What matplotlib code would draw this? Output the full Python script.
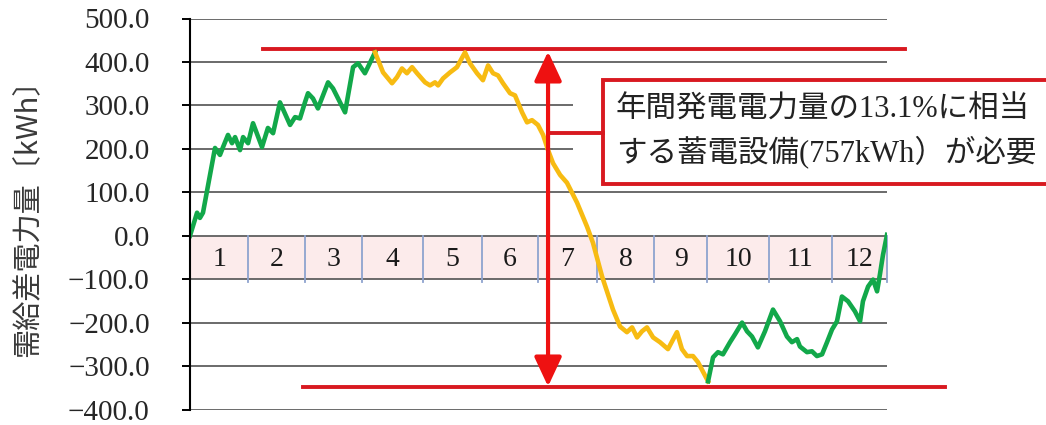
import matplotlib
matplotlib.use("Agg")
import matplotlib.pyplot as plt
from matplotlib.patches import Rectangle, FancyArrowPatch

# ---------------- data ----------------
# Day of year and cumulative supply-demand difference [kWh]
green1_day = [0, 3.7, 5.2, 6.8, 13.1, 15.7, 17.3, 19.9, 22.0, 23.6, 26.2, 27.8, 30.4,
              33.0, 37.7, 40.8, 43.5, 47.1, 52.4, 55.0, 57.6, 60.2, 61.8, 64.4, 67.0,
              72.3, 74.9, 81.2, 85.4, 88.0, 91.6, 96.9]
green1_val = [0, 53, 41, 53, 202, 186, 204, 232, 213, 227, 197, 227, 213,
              259, 204, 248, 236, 307, 255, 273, 270, 307, 328, 316, 293,
              353, 339, 284, 388, 397, 374, 422]

yellow_day = [96.9, 101.1, 105.8, 108.4, 111.0, 113.6, 116.3, 118.9, 123.1, 125.7, 128.3,
              129.9, 132.5, 136.2, 139.8, 144.0, 146.6, 150.3, 153.4, 156.1, 158.7, 161.3,
              163.9, 167.6, 170.2, 173.9, 176.5, 179.1, 182.2, 184.9, 187.5, 190.1, 193.8,
              197.4, 202.7, 207.9, 211.0, 215.8, 221.5, 225.2, 228.8, 231.5, 234.1, 236.7,
              239.3, 242.5, 246.1, 250.3, 255.0, 257.6, 260.3, 263.4, 266.0, 271.3]
yellow_val = [422, 376, 351, 365, 385, 374, 388, 374, 353, 346, 353,
              346, 362, 376, 388, 422, 397, 374, 358, 392, 374, 369,
              351, 328, 323, 284, 261, 266, 255, 232, 197, 167, 140,
              122, 76, 21, -16, -94, -170, -209, -222, -211, -234, -220,
              -211, -234, -245, -261, -222, -261, -277, -277, -291, -335]

green2_day = [271.3, 273.9, 276.5, 279.1, 282.8, 285.4, 289.1, 291.7, 294.3, 297.4, 301.1,
              305.3, 309.0, 312.6, 315.2, 317.9, 319.4, 323.1, 325.7, 328.3, 331.0, 333.6,
              336.2, 338.8, 341.4, 344.6, 348.2, 350.9, 352.4, 355.1, 357.7, 359.8, 361.3,
              362.9, 365.0]
green2_val = [-335, -280, -268, -273, -245, -227, -200, -220, -232, -257, -220,
              -170, -197, -232, -245, -238, -255, -268, -266, -277, -273, -245,
              -216, -197, -140, -151, -174, -197, -151, -117, -101, -128, -89,
              -44, 2]

month_edges = [0, 30.5, 60, 90, 122, 153, 182, 213, 243, 271, 303, 336, 365]
month_labels = ["1", "2", "3", "4", "5", "6", "7", "8", "9", "10", "11", "12"]

y_ticks = [-400, -300, -200, -100, 0, 100, 200, 300, 400, 500]

max_level = 429      # upper red line
min_level = -349     # lower red line

note_line1 = "年間発電電力量の13.1%に相当"
note_line2 = "する蓄電設備(757kWh）が必要"
y_label = "需給差電力量〔kWh〕"

# ---------------- figure ----------------
W, H = 1046, 425
fig = plt.figure(figsize=(W / 100, H / 100), dpi=100)
ax = fig.add_axes([190 / W, (H - 409.5) / H, 697 / W, 391 / H])
ax.set_xlim(0, 365)
ax.set_ylim(-400, 500)

for s in ["top", "right", "bottom"]:
    ax.spines[s].set_visible(False)
ax.spines["left"].set_linewidth(1.5)
ax.spines["left"].set_color("black")
ax.spines["left"].set_zorder(6)

ax.set_xticks([])
ax.set_yticks(y_ticks)
ax.set_yticklabels([f"{v:.1f}".replace("-", "\u2212") for v in y_ticks],
                   family="Liberation Serif", fontsize=21, color="#262626")
ax.tick_params(axis="y", direction="out", length=6, width=1.4, pad=23, color="black")

grid_color = "#5f5f5f"
for v in y_ticks:
    ax.axhline(v, color=grid_color, lw=1.3, zorder=2)

# month boxes
box_fill = "#fcebeb"
box_edge = "#8ea3cf"
for i, lab in enumerate(month_labels):
    a, b = month_edges[i], month_edges[i + 1]
    ax.add_patch(Rectangle((a, -100), b - a, 100, facecolor=box_fill,
                           edgecolor="none", zorder=1))
    ax.text((a + b) / 2, -55, lab, ha="center", va="center",
            family="Liberation Serif", fontsize=20, color="#1a1a1a", zorder=4)
for e in month_edges[1:]:
    ax.plot([e, e], [0, -106], color=box_edge, lw=1.3, zorder=3, clip_on=False)

# curve
green = "#12a84a"
yellow = "#f7bb12"
ax.plot(green1_day, green1_val, color=green, lw=3.3, zorder=5, solid_joinstyle="round")
ax.plot(yellow_day, yellow_val, color=yellow, lw=3.3, zorder=5, solid_joinstyle="round")
ax.plot(green2_day, green2_val, color=green, lw=3.3, zorder=5, solid_joinstyle="round")

# red level lines
red = "#d81920"
ax.plot([38.2, 374.4], [max_level, max_level], color=red, lw=2.8, zorder=4, clip_on=False)
ax.plot([59.2, 395.4], [min_level, min_level], color=red, lw=2.8, zorder=4, clip_on=False)

# double arrow
arr_x = 187.5
arrow = FancyArrowPatch((arr_x, max_level - 5), (arr_x, min_level + 2),
                        arrowstyle="<|-|>,head_length=0.9,head_width=0.42",
                        mutation_scale=20, color="#ee1111", lw=3.0,
                        shrinkA=0, shrinkB=0, zorder=7, clip_on=False)
ax.add_patch(arrow)

# annotation box
ax.add_patch(Rectangle((200.6, 117), 300, 244, facecolor="white", edgecolor="none",
                       zorder=3, clip_on=False))
ax.add_patch(Rectangle((216.3, 119), 300, 240, facecolor="white", edgecolor=red,
                       lw=2.8, zorder=6, clip_on=False))
ax.plot([arr_x, 216.3], [236.4, 236.4], color=red, lw=2.8, zorder=6, clip_on=False)
ax.text(223.1, 289, note_line1, ha="left", va="center", fontsize=22,
        family=["Liberation Serif", "Noto Sans CJK JP"], color="#222222", zorder=8,
        clip_on=False)
ax.text(223.1, 193, note_line2, ha="left", va="center", fontsize=22,
        family=["Liberation Serif", "Noto Sans CJK JP"], color="#222222", zorder=8,
        clip_on=False)

# y label
fig.text(27 / W, 1 - 211 / H, y_label, rotation=90, ha="center", va="center",
         family=["Noto Sans CJK JP", "DejaVu Sans"], fontsize=21, color="#3a3a3a")

fig.savefig("out.png", dpi=100)
